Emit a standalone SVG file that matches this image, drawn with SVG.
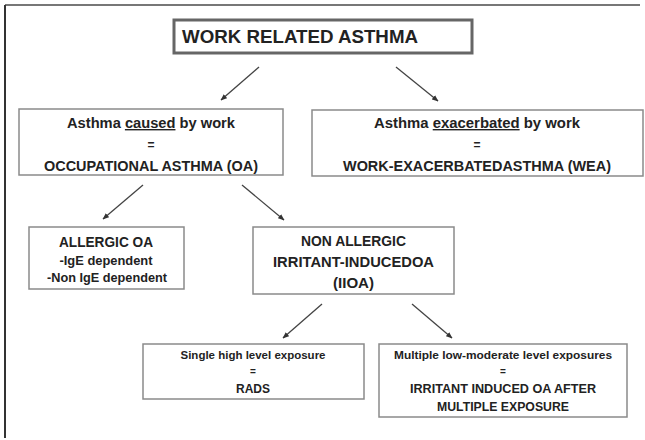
<svg xmlns="http://www.w3.org/2000/svg" width="645" height="440" viewBox="0 0 645 440">
  <defs>
    <marker id="arr" viewBox="0 0 10 10" refX="9" refY="5" markerWidth="5" markerHeight="5" orient="auto-start-reverse">
      <path d="M0,1 L10,5 L0,9 z" fill="#333"/>
    </marker>
    <style>
      .box { fill: #fff; stroke: #8a8a8a; stroke-width: 1.5; }
      .t { font-family: "Liberation Sans", Arial, sans-serif; font-weight: bold; fill: #222; text-anchor: middle; }
      .conn line { stroke: #444; stroke-width: 1.3; marker-end: url(#arr); }
      .u { text-decoration: underline; }
    </style>
  </defs>
  <rect x="0" y="0" width="645" height="440" fill="#fff"/>
  <g id="frame">
    <line x1="5" y1="5" x2="640" y2="5" stroke="#777" stroke-width="2"/>
    <line x1="5" y1="5" x2="5" y2="438" stroke="#333" stroke-width="2"/>
  </g>

  <g id="title">
    <rect x="174" y="20" width="298" height="33" fill="#fff" stroke="#666" stroke-width="3"/>
    <text class="t" x="182" y="43" font-size="18" style="text-anchor:start" textLength="236" lengthAdjust="spacingAndGlyphs">WORK RELATED ASTHMA</text>
  </g>

  <g id="oa">
    <rect class="box" x="19" y="109" width="264" height="66"/>
    <text class="t" x="151" y="128" font-size="14" textLength="168" lengthAdjust="spacingAndGlyphs">Asthma <tspan class="u">caused</tspan> by work</text>
    <text class="t" x="151" y="149" font-size="12">=</text>
    <text class="t" x="151" y="171" font-size="14" textLength="214" lengthAdjust="spacingAndGlyphs">OCCUPATIONAL ASTHMA (OA)</text>
  </g>

  <g id="wea">
    <rect class="box" x="312" y="110" width="331" height="66"/>
    <text class="t" x="477" y="128" font-size="14" textLength="206" lengthAdjust="spacingAndGlyphs">Asthma <tspan class="u">exacerbated</tspan> by work</text>
    <text class="t" x="477" y="149" font-size="12">=</text>
    <text class="t" x="477" y="171" font-size="14" textLength="268" lengthAdjust="spacingAndGlyphs">WORK-EXACERBATEDASTHMA (WEA)</text>
  </g>

  <g id="allergic">
    <rect class="box" x="29" y="227" width="155" height="62"/>
    <text class="t" x="106" y="247" font-size="14" textLength="94" lengthAdjust="spacingAndGlyphs">ALLERGIC OA</text>
    <text class="t" x="106" y="265" font-size="12" textLength="93" lengthAdjust="spacingAndGlyphs">-IgE dependent</text>
    <text class="t" x="107" y="282" font-size="12" textLength="120" lengthAdjust="spacingAndGlyphs">-Non IgE dependent</text>
  </g>

  <g id="nonallergic">
    <rect class="box" x="253" y="227" width="201" height="67"/>
    <text class="t" x="353.5" y="246" font-size="14" textLength="105" lengthAdjust="spacingAndGlyphs">NON ALLERGIC</text>
    <text class="t" x="353.5" y="267" font-size="14" textLength="161" lengthAdjust="spacingAndGlyphs">IRRITANT-INDUCEDOA</text>
    <text class="t" x="353.5" y="288" font-size="14" textLength="41" lengthAdjust="spacingAndGlyphs">(IIOA)</text>
  </g>

  <g id="rads">
    <rect class="box" x="143" y="344" width="221" height="55"/>
    <text class="t" x="253" y="359" font-size="11" textLength="145" lengthAdjust="spacingAndGlyphs">Single high level exposure</text>
    <text class="t" x="253" y="375" font-size="10">=</text>
    <text class="t" x="253" y="393" font-size="13" textLength="34" lengthAdjust="spacingAndGlyphs">RADS</text>
  </g>

  <g id="multiple">
    <rect class="box" x="379" y="344" width="248" height="73"/>
    <text class="t" x="503" y="359" font-size="11" textLength="218" lengthAdjust="spacingAndGlyphs">Multiple low-moderate level exposures</text>
    <text class="t" x="503" y="375" font-size="10">=</text>
    <text class="t" x="503" y="393" font-size="13" textLength="186" lengthAdjust="spacingAndGlyphs">IRRITANT INDUCED  OA AFTER</text>
    <text class="t" x="503" y="411" font-size="13" textLength="132" lengthAdjust="spacingAndGlyphs">MULTIPLE  EXPOSURE</text>
  </g>

  <g id="connectors" class="conn">
    <line x1="259" y1="67" x2="221" y2="100"/>
    <line x1="396" y1="67" x2="438" y2="101"/>
    <line x1="143" y1="185" x2="103" y2="219"/>
    <line x1="242" y1="185" x2="284" y2="220"/>
    <line x1="322" y1="304" x2="283" y2="338"/>
    <line x1="412" y1="304" x2="452" y2="338"/>
  </g>
</svg>
